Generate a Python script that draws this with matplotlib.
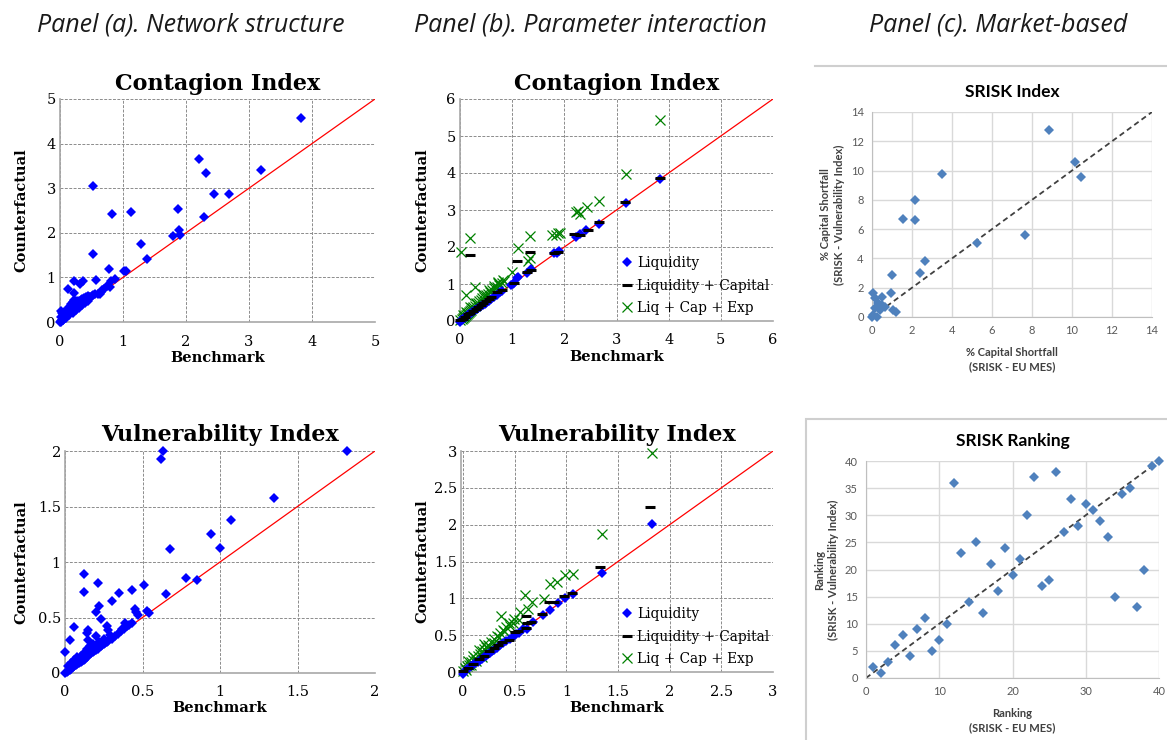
import matplotlib
matplotlib.use("Agg")
import matplotlib.pyplot as plt
from matplotlib.lines import Line2D
from matplotlib.patches import Rectangle

# ---------------- data ----------------
# Panel (a) Contagion Index (benchmark, counterfactual)
a_ci_bench = [3.83, 2.21, 2.31, 2.44, 2.68, 3.19, 2.29, 1.87, 1.89, 1.79, 1.90, 0.53, 0.83,
              1.12, 1.29, 1.38, 0.53, 0.78, 1.02, 1.04, 0.57, 0.87, 0.81, 0.80, 0.23, 0.32,
              0.37, 0.12, 0.22, 0.63, 0.66, 0.02,
              0.00, 0.01, 0.02, 0.03, 0.04, 0.05, 0.06, 0.07, 0.08, 0.09, 0.10, 0.11, 0.12,
              0.13, 0.14, 0.15, 0.16, 0.17, 0.18, 0.19, 0.20, 0.22, 0.24, 0.26, 0.28, 0.30,
              0.32, 0.34, 0.36, 0.38, 0.40, 0.42, 0.44, 0.46, 0.48, 0.50, 0.52, 0.55,
              0.02, 0.03, 0.05, 0.06, 0.08, 0.10, 0.12, 0.14, 0.15, 0.17, 0.18, 0.20, 0.21,
              0.22, 0.24, 0.25, 0.27, 0.29, 0.31, 0.33, 0.35, 0.38, 0.41, 0.44,
              0.05, 0.10, 0.15, 0.20, 0.25, 0.30, 0.35, 0.40, 0.45, 0.60, 0.65, 0.70, 0.75]
a_ci_cf = [4.58, 3.65, 3.35, 2.86, 2.86, 3.41, 2.36, 2.54, 2.07, 1.92, 1.94, 3.06, 2.43,
           2.46, 1.74, 1.42, 1.52, 1.18, 1.15, 1.14, 0.95, 0.97, 0.91, 0.79, 0.91, 0.85,
           0.92, 0.73, 0.64, 0.62, 0.72, 0.25,
           0.00, 0.01, 0.03, 0.04, 0.05, 0.07, 0.08, 0.10, 0.11, 0.12, 0.13, 0.15, 0.16,
           0.18, 0.19, 0.21, 0.22, 0.24, 0.25, 0.27, 0.28, 0.30, 0.32, 0.35, 0.37, 0.39,
           0.41, 0.43, 0.45, 0.47, 0.49, 0.51, 0.53, 0.55, 0.57, 0.59, 0.60, 0.62,
           0.12, 0.20, 0.15, 0.22, 0.18, 0.25, 0.30, 0.34, 0.27, 0.40, 0.33, 0.45, 0.38,
           0.50, 0.42, 0.47, 0.44, 0.48, 0.46, 0.50, 0.52, 0.54, 0.56, 0.58,
           0.05, 0.10, 0.16, 0.21, 0.26, 0.31, 0.37, 0.42, 0.47, 0.63, 0.68, 0.74, 0.80]

# Panel (a) Vulnerability Index
a_vi_bench = [1.82, 0.63, 0.62, 1.35, 1.07, 0.94, 1.00, 0.68, 0.78, 0.85, 0.65, 0.12, 0.12,
              0.21, 0.35, 0.43, 0.51, 0.30, 0.22, 0.20, 0.23, 0.06, 0.03, 0.00, 0.15, 0.14,
              0.15, 0.20, 0.27, 0.28, 0.45, 0.46, 0.47, 0.53, 0.54, 0.39, 0.40, 0.37, 0.36,
              0.00, 0.01, 0.02, 0.03, 0.04, 0.05, 0.06, 0.07, 0.08, 0.09, 0.10, 0.11, 0.12,
              0.13, 0.14, 0.15, 0.16, 0.17, 0.18, 0.19, 0.20, 0.21, 0.22, 0.23, 0.24, 0.25,
              0.26, 0.27, 0.28, 0.30, 0.32, 0.34, 0.38, 0.41, 0.43,
              0.02, 0.04, 0.06, 0.08, 0.10, 0.12, 0.14, 0.16, 0.18, 0.22, 0.25, 0.29]
a_vi_cf = [2.00, 2.00, 1.93, 1.58, 1.38, 1.25, 1.13, 1.12, 0.86, 0.84, 0.71, 0.89, 0.73,
           0.81, 0.72, 0.75, 0.79, 0.65, 0.60, 0.55, 0.49, 0.41, 0.30, 0.19, 0.39, 0.36,
           0.30, 0.33, 0.42, 0.39, 0.58, 0.55, 0.52, 0.56, 0.54, 0.45, 0.42, 0.40, 0.38,
           0.00, 0.01, 0.02, 0.03, 0.04, 0.05, 0.06, 0.07, 0.08, 0.09, 0.10, 0.11, 0.12,
           0.13, 0.14, 0.16, 0.17, 0.18, 0.19, 0.20, 0.21, 0.22, 0.23, 0.24, 0.25, 0.26,
           0.27, 0.28, 0.29, 0.31, 0.33, 0.35, 0.40, 0.43, 0.45,
           0.06, 0.09, 0.12, 0.14, 0.15, 0.18, 0.22, 0.24, 0.26, 0.28, 0.31, 0.34]

# Panel (b) Contagion Index: Liquidity / Liquidity + Capital / Liq + Cap + Exp
b_ci_liq_x = [0.00, 0.02, 0.04, 0.06, 0.08, 0.10, 0.12, 0.14, 0.16, 0.18, 0.20, 0.23, 0.26,
              0.29, 0.32, 0.35, 0.38, 0.41, 0.44, 0.47, 0.50, 0.55, 0.60, 0.65, 0.70, 0.77,
              0.80, 0.98, 1.01, 1.03, 1.10, 1.12, 1.29, 1.37, 1.80, 1.85, 1.89, 2.22, 2.30,
              2.42, 2.67, 3.18, 3.83]
b_ci_liq_y = [-0.04, 0.02, 0.04, 0.06, 0.08, 0.10, 0.12, 0.14, 0.16, 0.18, 0.20, 0.23, 0.26,
              0.29, 0.32, 0.35, 0.38, 0.41, 0.44, 0.47, 0.50, 0.55, 0.60, 0.65, 0.70, 0.79,
              0.80, 0.98, 1.01, 1.02, 1.15, 1.20, 1.31, 1.40, 1.83, 1.85, 1.88, 2.27, 2.34,
              2.46, 2.63, 3.19, 3.84]
b_ci_cap_x = [0.00, 0.05, 0.10, 0.15, 0.20, 0.25, 0.30, 0.35, 0.40, 0.45, 0.50, 0.55, 0.60,
              0.70, 0.80, 0.19, 1.03, 1.10, 1.28, 1.37, 1.34, 1.80, 1.87, 2.19, 2.30, 2.45,
              2.67, 3.17, 3.83]
b_ci_cap_y = [0.02, 0.06, 0.12, 0.18, 0.22, 0.28, 0.33, 0.39, 0.44, 0.50, 0.55, 0.60, 0.66,
              0.78, 0.83, 1.79, 1.03, 1.61, 1.32, 1.37, 1.86, 1.83, 1.87, 2.36, 2.32, 2.46,
              2.67, 3.22, 3.86]
b_ci_exp_x = [0.00, 0.03, 0.05, 0.07, 0.09, 0.11, 0.13, 0.15, 0.17, 0.19, 0.21, 0.23, 0.25,
              0.28, 0.31, 0.34, 0.37, 0.40, 0.43, 0.46, 0.50, 0.54, 0.58, 0.62, 0.66, 0.70,
              0.75, 0.80, 0.85, 0.05, 0.12, 0.20, 0.30, 0.45, 0.55, 0.65, 0.72,
              0.01, 0.19, 0.12, 0.29, 0.99, 0.83, 0.73, 1.12, 1.30, 1.34, 1.35, 1.76, 1.84,
              1.88, 1.91, 2.22, 2.30, 2.27, 2.44, 2.66, 3.18, 3.83]
b_ci_exp_y = [0.02, 0.05, 0.08, 0.10, 0.13, 0.16, 0.19, 0.22, 0.25, 0.28, 0.31, 0.34, 0.37,
              0.41, 0.45, 0.49, 0.53, 0.57, 0.61, 0.65, 0.70, 0.74, 0.79, 0.84, 0.88, 0.92,
              0.97, 1.03, 1.08, 0.15, 0.25, 0.38, 0.50, 0.72, 0.85, 0.95, 1.05,
              1.87, 2.23, 0.70, 0.93, 1.33, 1.11, 1.03, 1.96, 1.61, 1.69, 2.30, 2.32, 2.33,
              2.38, 2.39, 2.94, 2.89, 2.96, 3.07, 3.23, 3.97, 5.42]

# Panel (b) Vulnerability Index
b_vi_liq_x = [0.00, 0.02, 0.04, 0.06, 0.08, 0.10, 0.12, 0.14, 0.16, 0.18, 0.20, 0.22, 0.24,
              0.26, 0.28, 0.30, 0.33, 0.36, 0.39, 0.42, 0.45, 0.48, 0.51, 0.54, 0.58, 0.62,
              0.68, 0.77, 0.84, 0.92, 0.99, 1.06, 1.34, 1.83]
b_vi_liq_y = [-0.03, 0.02, 0.04, 0.06, 0.08, 0.10, 0.12, 0.14, 0.16, 0.18, 0.20, 0.22, 0.24,
              0.26, 0.28, 0.30, 0.33, 0.36, 0.39, 0.42, 0.45, 0.48, 0.51, 0.53, 0.58, 0.59,
              0.68, 0.78, 0.84, 0.94, 1.00, 1.06, 1.34, 2.01]
b_vi_cap_x = [0.00, 0.05, 0.10, 0.15, 0.20, 0.25, 0.30, 0.34, 0.38, 0.44, 0.50, 0.53, 0.61,
              0.62, 0.61, 0.66, 0.76, 0.83, 0.88, 0.98, 1.05, 1.33, 1.81]
b_vi_cap_y = [0.01, 0.06, 0.11, 0.17, 0.22, 0.28, 0.33, 0.36, 0.41, 0.44, 0.54, 0.56, 0.60,
              0.67, 0.76, 0.68, 0.79, 0.95, 0.95, 1.03, 1.07, 1.43, 2.24]
b_vi_exp_x = [0.00, 0.02, 0.04, 0.06, 0.08, 0.10, 0.12, 0.14, 0.16, 0.18, 0.20, 0.22, 0.24,
              0.27, 0.30, 0.33, 0.36, 0.39, 0.42, 0.45, 0.48, 0.05, 0.10, 0.15, 0.20, 0.25,
              0.30, 0.35, 0.40, 0.03, 0.08, 0.13, 0.18,
              0.37, 0.49, 0.44, 0.54, 0.55, 0.60, 0.63, 0.67, 0.78, 0.84, 0.91, 0.99, 1.06,
              1.34, 1.83]
b_vi_exp_y = [0.02, 0.05, 0.08, 0.10, 0.13, 0.16, 0.19, 0.22, 0.25, 0.28, 0.31, 0.34, 0.37,
              0.41, 0.45, 0.49, 0.53, 0.57, 0.61, 0.63, 0.67, 0.15, 0.22, 0.30, 0.38, 0.35,
              0.40, 0.48, 0.55, 0.03, 0.09, 0.15, 0.21,
              0.76, 0.72, 0.67, 0.70, 0.81, 1.04, 0.85, 0.95, 0.99, 1.20, 1.22, 1.31, 1.33,
              1.88, 2.97]

# Panel (c) SRISK Index (% capital shortfall)
c_idx_x = [8.87, 10.17, 10.45, 3.50, 2.17, 2.13, 1.53, 7.67, 5.23, 2.65, 2.40, 1.02, 0.93,
           0.03, 0.15, 0.48, 0.48, 0.65, 0.32, 0.15, 1.07, 1.20, 0.07, 0.40, 0.25, 0.00]
c_idx_y = [12.76, 10.59, 9.59, 9.77, 7.97, 6.63, 6.72, 5.58, 5.06, 3.82, 3.02, 2.86, 1.66,
           1.61, 1.27, 1.39, 0.82, 0.70, 0.93, 0.59, 0.48, 0.36, 0.14, 0.48, 0.00, 0.02]

# Panel (c) SRISK Ranking
c_rank_x = list(range(1, 41))
c_rank_y = [2, 1, 3, 6, 8, 4, 9, 11, 5, 7, 10, 36, 23, 14, 25, 12, 21, 16, 24, 19,
            22, 30, 37, 17, 18, 38, 27, 33, 28, 32, 31, 29, 26, 15, 34, 35, 13, 20, 39, 40]

panel_titles = ["Panel (a). Network structure", "Panel (b). Parameter interaction",
                "Panel (c). Market-based"]

# ---------------- figure ----------------
W, H = 1167, 740
fig = plt.figure(figsize=(W / 100, H / 100), dpi=100)
SERIF = "DejaVu Serif"
SANS = "Lato"


def px_axes(left, top, right, bottom):
    ax = fig.add_axes([left / W, 1 - bottom / H, (right - left) / W, (bottom - top) / H])
    ax.px_box = (left, top, right, bottom)
    return ax


def serif_axes(ax, lim, ticks, labels, title, ylab_x, xlab_y, title_y, lo=0):
    left, top, right, bottom = ax.px_box
    ax.set_xlim(lo, lim)
    ax.set_ylim(0, lim)
    ax.set_xticks(ticks)
    ax.set_yticks(ticks)
    ax.set_xticklabels(labels, family=SERIF, fontsize=10.5)
    ax.set_yticklabels(labels, family=SERIF, fontsize=10.5)
    ax.tick_params(axis="y", length=0, pad=3)
    ax.tick_params(axis="x", length=0, pad=9)
    ax.grid(True, color="#8c8c8c", linestyle=(0, (3, 1.5)), linewidth=0.7)
    ax.set_axisbelow(True)
    for s in ["top", "right"]:
        ax.spines[s].set_visible(False)
    for s in ["left", "bottom"]:
        ax.spines[s].set_color("#a8a8a8")
        ax.spines[s].set_linewidth(1.2)
    ax.plot([0, lim], [0, lim], color="red", linewidth=0.9, zorder=2)
    ax.set_title(title, family=SERIF, fontweight="bold", fontsize=16, va="center", pad=0,
                 y=(bottom - title_y) / (bottom - top))
    ax.set_xlabel("Benchmark", family=SERIF, fontweight="bold", fontsize=10.5, va="center")
    ax.xaxis.set_label_coords(0.5, (bottom - xlab_y) / (bottom - top))
    ax.set_ylabel("Counterfactual", family=SERIF, fontweight="bold", fontsize=10.5, va="center")
    ax.yaxis.set_label_coords((ylab_x - left) / (right - left), 0.5)


def diamonds(ax, x, y, color="blue", ms=5.5):
    ax.plot(x, y, linestyle="none", marker="D", markersize=ms, color=color,
            markeredgewidth=0, zorder=3, clip_on=False)


# Panel (a)
ax = px_axes(60, 99, 375, 322)
serif_axes(ax, 5, [0, 1, 2, 3, 4, 5], ["0", "1", "2", "3", "4", "5"], "Contagion Index",
           21, 358, 84)
diamonds(ax, a_ci_bench, a_ci_cf)

ax = px_axes(65, 451, 375, 673)
ticks = [0, 0.5, 1, 1.5, 2]
serif_axes(ax, 2, ticks, ["0", "0.5", "1", "1.5", "2"], "Vulnerability Index", 21, 708, 435)
diamonds(ax, a_vi_bench, a_vi_cf)


# Panel (b)
def three_series(ax, lx, ly, cx, cy, ex, ey):
    ax.plot(ex, ey, linestyle="none", marker="x", markersize=6.5, color="green",
            markeredgewidth=0.9, zorder=3, clip_on=False, label="Liq + Cap + Exp")
    ax.plot(lx, ly, linestyle="none", marker="D", markersize=5.5, color="blue",
            markeredgewidth=0, zorder=4, clip_on=False, label="Liquidity")
    ax.plot(cx, cy, linestyle="none", marker="_", markersize=7.5, color="black",
            markeredgewidth=2.2, zorder=5, clip_on=False, label="Liquidity + Capital")
    h = {l.get_label(): l for l in ax.get_lines()}
    order = ["Liquidity", "Liquidity + Capital", "Liq + Cap + Exp"]
    ax.legend([h[k] for k in order], order, loc="lower right", bbox_to_anchor=(1.015, -0.01),
              frameon=False, prop={"family": SERIF, "size": 9.8}, handlelength=0.6,
              handletextpad=0.45, labelspacing=0.62, borderaxespad=0.2)


ax = px_axes(460, 99, 773, 321)
serif_axes(ax, 6, [0, 1, 2, 3, 4, 5, 6], ["0", "1", "2", "3", "4", "5", "6"],
           "Contagion Index", 422, 357, 84)
three_series(ax, b_ci_liq_x, b_ci_liq_y, b_ci_cap_x, b_ci_cap_y, b_ci_exp_x, b_ci_exp_y)

ax = px_axes(461, 451, 773, 672)
ticks = [0, 0.5, 1, 1.5, 2, 2.5, 3]
serif_axes(ax, 3, ticks, ["0", "0.5", "1", "1.5", "2", "2.5", "3"], "Vulnerability Index",
           422, 708, 435, lo=-0.02)
three_series(ax, b_vi_liq_x, b_vi_liq_y, b_vi_cap_x, b_vi_cap_y, b_vi_exp_x, b_vi_exp_y)


# Panel (c) - spreadsheet style charts
def excel_axes(ax, lim, step, title, xlabel, ylabel):
    ax.set_xlim(0, lim)
    ax.set_ylim(0, lim)
    ax.set_xticks(range(0, lim + 1, step[0]))
    ax.set_yticks(range(0, lim + 1, step[1]))
    ax.tick_params(length=0, labelsize=8, labelcolor="#595959", pad=6)
    for lab in ax.get_xticklabels() + ax.get_yticklabels():
        lab.set_family(SANS)
    ax.grid(True, color="#d9d9d9", linewidth=1.0)
    ax.set_axisbelow(True)
    for s in ["top", "right"]:
        ax.spines[s].set_visible(False)
    for s in ["left", "bottom"]:
        ax.spines[s].set_color("#bfbfbf")
    ax.plot([0, lim], [0, lim], color="#404040", linestyle=(0, (3, 2)), linewidth=1.3, zorder=2)
    ax.set_title(title, family=SANS, fontweight="bold", fontsize=12.5, pad=11)
    ax.set_xlabel(xlabel, family=SANS, fontweight="bold", fontsize=8, color="#404040",
                  labelpad=8, linespacing=1.3)
    ax.set_ylabel(ylabel, family=SANS, fontweight="bold", fontsize=8, color="#404040",
                  labelpad=4, linespacing=1.3)


ax = px_axes(872, 112, 1152, 317)
excel_axes(ax, 14, (2, 2), "SRISK Index", "% Capital Shortfall\n(SRISK - EU MES)",
           "% Capital Shortfall\n(SRISK - Vulnerability Index)")
diamonds(ax, c_idx_x, c_idx_y, color="#4f81bd", ms=5.5)

ax = px_axes(866, 461, 1159, 678)
excel_axes(ax, 40, (10, 5), "SRISK Ranking", "Ranking\n(SRISK - EU MES)",
           "Ranking\n(SRISK - Vulnerability Index)")
diamonds(ax, c_rank_x, c_rank_y, color="#4f81bd", ms=5.5)

# frames of the pasted spreadsheet charts
fig.add_artist(Line2D([815 / W, 1.0], [1 - 66 / H, 1 - 66 / H], color="#cfcfcf", linewidth=1.5))
fig.add_artist(Rectangle((806 / W, -0.05), 0.5, 1 - 419 / H + 0.05, fill=False,
                         edgecolor="#cfcfcf", linewidth=1.5))

# panel headers
for title, cx in zip(panel_titles, [191, 590, 998]):
    fig.text(cx / W, 1 - 25 / H, title, family="Open Sans", style="italic", fontsize=18,
             ha="center", va="center", color="#1a1a1a")

fig.savefig("out.png", dpi=100)
